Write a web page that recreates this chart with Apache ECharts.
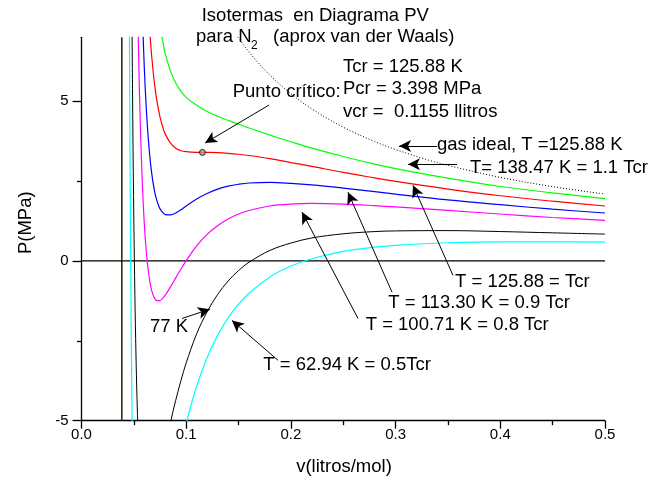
<!DOCTYPE html>
<html>
<head>
<meta charset="utf-8">
<script src="https://cdn.jsdelivr.net/npm/echarts@6/dist/echarts.min.js"></script>
<style>html,body{margin:0;padding:0;background:#fff}#c{width:655px;height:481px}</style>
</head>
<body>
<div id="c"></div>
<script>
// Isotherms (v [L/mol], P [MPa])
const iso13847 = [[0.075,7.36],[0.078,6.80],[0.08,6.49],[0.085,5.94],[0.09,5.57],[0.095,5.31],[0.1,5.12],[0.11,4.87],[0.12,4.68],[0.13,4.53],[0.14,4.40],[0.15,4.28],[0.16,4.16],[0.18,3.94],[0.2,3.73],[0.22,3.53],[0.25,3.27],[0.28,3.03],[0.3,2.89],[0.35,2.59],[0.4,2.33],[0.45,2.13],[0.5,1.95]];
const iso12588 = [[0.064,7.85],[0.066,6.83],[0.068,6.07],[0.07,5.47],[0.072,5.01],[0.075,4.50],[0.078,4.15],[0.08,3.97],[0.085,3.69],[0.09,3.53],[0.095,3.45],[0.1,3.42],[0.11,3.40],[0.1155,3.398],[0.12,3.397],[0.13,3.39],[0.14,3.37],[0.15,3.34],[0.16,3.30],[0.18,3.20],[0.2,3.08],[0.22,2.96],[0.25,2.77],[0.28,2.60],[0.3,2.49],[0.35,2.25],[0.4,2.04],[0.45,1.87],[0.5,1.72]];
const iso11330 = [[0.058,7.87],[0.06,6.03],[0.062,4.70],[0.064,3.74],[0.066,3.03],[0.068,2.52],[0.07,2.15],[0.072,1.89],[0.075,1.63],[0.078,1.50],[0.08,1.45],[0.085,1.44],[0.09,1.50],[0.095,1.60],[0.1,1.72],[0.11,1.94],[0.12,2.11],[0.13,2.25],[0.14,2.34],[0.15,2.40],[0.16,2.44],[0.18,2.46],[0.2,2.43],[0.22,2.38],[0.25,2.28],[0.28,2.17],[0.3,2.09],[0.35,1.91],[0.4,1.76],[0.45,1.62],[0.5,1.50]];
const iso10071 = [[0.054,7.38],[0.055,5.79],[0.056,4.47],[0.058,2.51],[0.06,1.16],[0.062,0.25],[0.064,-0.36],[0.066,-0.78],[0.068,-1.03],[0.07,-1.18],[0.072,-1.24],[0.075,-1.24],[0.078,-1.15],[0.08,-1.07],[0.085,-0.81],[0.09,-0.53],[0.095,-0.25],[0.1,0.01],[0.11,0.47],[0.12,0.83],[0.13,1.10],[0.14,1.31],[0.15,1.47],[0.16,1.58],[0.18,1.72],[0.2,1.78],[0.22,1.80],[0.25,1.78],[0.28,1.73],[0.3,1.69],[0.35,1.58],[0.4,1.47],[0.45,1.36],[0.5,1.27]];
const iso77 = [[0.048,8.36],[0.049,4.33],[0.05,1.27],[0.051,-1.08],[0.052,-2.88],[0.053,-4.27],[0.054,-5.34],[0.056,-6.79],[0.06,-8.01],[0.065,-8.03],[0.07,-7.43],[0.075,-6.64],[0.08,-5.82],[0.085,-5.05],[0.09,-4.36],[0.095,-3.74],[0.1,-3.19],[0.11,-2.28],[0.12,-1.59],[0.13,-1.05],[0.14,-0.63],[0.15,-0.30],[0.16,-0.04],[0.18,0.33],[0.2,0.56],[0.22,0.72],[0.25,0.85],[0.28,0.92],[0.3,0.94],[0.35,0.95],[0.4,0.92],[0.45,0.88],[0.5,0.84]];
const iso6294 = [[0.045,13.35],[0.046,5.50],[0.047,-0.01],[0.048,-3.95],[0.049,-6.80],[0.05,-8.90],[0.055,-13.24],[0.06,-13.44],[0.07,-11.15],[0.08,-8.64],[0.09,-6.63],[0.095,-5.81],[0.1,-5.09],[0.105,-4.47],[0.11,-3.92],[0.12,-3.02],[0.13,-2.33],[0.14,-1.78],[0.15,-1.35],[0.16,-1.01],[0.18,-0.50],[0.2,-0.16],[0.22,0.07],[0.25,0.30],[0.28,0.43],[0.3,0.49],[0.35,0.57],[0.4,0.60],[0.45,0.60],[0.5,0.59]];
const idealGas = [[0.14,7.475],[0.15,6.977],[0.16,6.541],[0.17,6.156],[0.18,5.814],[0.2,5.233],[0.22,4.757],[0.25,4.186],[0.28,3.738],[0.3,3.489],[0.33,3.171],[0.35,2.990],[0.4,2.616],[0.45,2.326],[0.5,2.093]];
const covolumeLine = [[0.0385,-5],[0.0385,7]];
const zeroLine = [[0,0],[0.5,0]];
const criticalPoint = [[0.1155,3.398]];
// Arrows: [tail, head] in data coordinates
const arrows = [
  [[0.1791,4.88],[0.1180,3.69]],
  [[0.3395,3.60],[0.3033,3.60]],
  [[0.3586,3.03],[0.3118,3.03]],
  [[0.3548,-0.45],[0.3166,2.37]],
  [[0.2966,-0.98],[0.2545,2.15]],
  [[0.2641,-1.80],[0.2106,1.53]],
  [[0.0960,-1.80],[0.1227,-1.51]],
  [[0.1877,-3.11],[0.1437,-1.86]]
];
const yMajorTicks = [-5, 0, 5];
const yMinorRange = [-2.5, 2.5];

const FONT = '"Liberation Sans", Arial, sans-serif';
const chart = echarts.init(document.getElementById('c'), null, {renderer:'canvas'});

function curve(data, color, width, type) {
  return {type:'line', data, showSymbol:false, symbol:'none', smooth:0.35,
    clip:true, lineStyle:{color, width: width||1.2, type: type||'solid'}, silent:true, z:3};
}

function txt(text, x, y, size, extra) {
  return Object.assign({type:'text', x, y, silent:true, z:100,
    style:{text, font: size + 'px ' + FONT, fill:'#000', align:'left', verticalAlign:'middle'}}, extra||{});
}

// main grid spans P = -5 .. 7 over 383.4 px; minor-tick grid spans P = -2.5 .. 2.5
const G_TOP = 37.3, G_BOTTOM = 60.3, PX_PER_UNIT = (481 - G_TOP - G_BOTTOM) / 12;
const option = {
  animation:false,
  backgroundColor:'#fff',
  grid:[
    {left:81.5, right:50, top:G_TOP, bottom:G_BOTTOM},
    {left:81.5, right:50, top:G_TOP + (7 - yMinorRange[1]) * PX_PER_UNIT, bottom:G_BOTTOM + (yMinorRange[0] + 5) * PX_PER_UNIT}
  ],
  xAxis:[
    {type:'value', min:0, max:0.5, interval:0.1, gridIndex:0,
      axisLine:{onZero:false, lineStyle:{color:'#000', width:1.3}},
      axisTick:{inside:false, length:8, lineStyle:{color:'#000', width:1.3}},
      minorTick:{show:true, splitNumber:2, length:4.5, lineStyle:{color:'#000', width:1.3}},
      splitLine:{show:false}, minorSplitLine:{show:false},
      axisLabel:{color:'#000', fontSize:15, fontFamily:FONT, margin:7, formatter:(v)=>v.toFixed(1)}},
    {type:'value', min:0, max:0.5, gridIndex:1, show:false}
  ],
  yAxis:[
    {type:'value', min:-5, max:7, interval:5, position:'left', gridIndex:0, z:5,
      axisLine:{onZero:false, lineStyle:{color:'#000', width:1.3}},
      axisTick:{inside:false, length:9, customValues:yMajorTicks, lineStyle:{color:'#000', width:1.3}},
      axisLabel:{color:'#000', fontSize:15, fontFamily:FONT, margin:13, customValues:yMajorTicks},
      splitLine:{show:false}},
    {type:'value', min:yMinorRange[0], max:yMinorRange[1], interval:5, position:'left', gridIndex:1, z:6,
      axisLine:{show:false, onZero:false},
      axisTick:{show:true, inside:false, length:4.5, lineStyle:{color:'#000', width:1.3}},
      axisLabel:{show:false}, splitLine:{show:false}}
  ],
  series:[
    {type:'line', data:covolumeLine, showSymbol:false, symbol:'none', lineStyle:{color:'#1e3a12', width:1.6}, silent:true, z:2},
    {type:'line', data:zeroLine, showSymbol:false, symbol:'none', lineStyle:{color:'#000', width:1.3}, silent:true, z:2,
      markLine:{silent:true, symbol:['none','arrow'], symbolSize:[9,12], animation:false,
        lineStyle:{color:'#000', width:1, type:'solid'}, label:{show:false}, emphasis:{disabled:true},
        data: arrows.map(a => [{coord:a[0]}, {coord:a[1]}])}},
    curve(idealGas, '#000', 1, [1, 2]),
    curve(iso13847, '#00ff00'),
    curve(iso12588, '#ff0000'),
    curve(iso11330, '#0000ff'),
    curve(iso10071, '#ff00ff'),
    curve(iso77, '#000000', 1),
    curve(iso6294, '#00ffff'),
    {type:'scatter', data:criticalPoint, symbol:'circle', symbolSize:6, silent:true, z:10,
      itemStyle:{color:'#9a9a9a', borderColor:'#000', borderWidth:1}}
  ],
  graphic:[
    txt('Isotermas  en Diagrama PV', 201.7, 16, 18.5),
    txt('para N', 196, 36.5, 18.5),
    txt('2', 251, 46, 12),
    txt('(aprox van der Waals)', 273, 36.5, 18.5),
    txt('Tcr = 125.88 K', 343, 66.5, 18.5),
    txt('Pcr = 3.398 MPa', 343, 89, 18.5),
    txt('vcr =  0.1155 llitros', 343, 111.5, 18.5),
    txt('Punto crítico:', 232.7, 91.7, 18.5),
    txt('gas ideal, T =125.88 K', 437, 145, 18.5),
    txt('T= 138.47 K = 1.1 Tcr', 470, 167.8, 18.5),
    txt('T = 125.88 = Tcr', 455, 281.7, 18.5),
    txt('T = 113.30 K = 0.9 Tcr', 388.3, 303.3, 18.5),
    txt('T = 100.71 K = 0.8 Tcr', 365.7, 325, 18.5),
    txt('77 K', 150, 327, 18.5),
    txt('T = 62.94 K = 0.5Tcr', 263.3, 364.5, 18.5),
    txt('v(litros/mol)', 344, 467, 18.5, {}),
    txt('P(MPa)', 26, 222.7, 18.5, {rotation:Math.PI/2})
  ]
};
option.graphic[15].style.align = 'center';
option.graphic[16].style.align = 'center';
chart.setOption(option);
</script>
</body>
</html>
